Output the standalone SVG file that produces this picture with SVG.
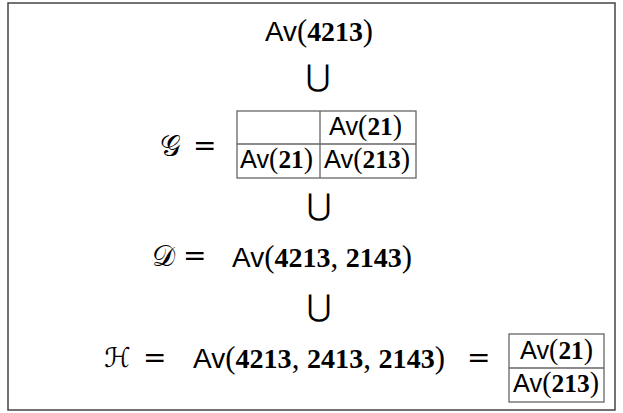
<svg xmlns="http://www.w3.org/2000/svg" width="623" height="413" viewBox="0 0 623 413">
<style>
.sf{font-family:"Liberation Sans",Arial,sans-serif}
.rm{font-family:"Liberation Serif","Times New Roman",serif;font-size:1.1em}
.bf{font-family:"Liberation Serif","Times New Roman",serif;font-weight:bold}
.t{font-size:28px;fill:#000}
.s{font-size:26px;fill:#000}
.op{font-family:"DejaVu Sans",sans-serif;font-size:28px;fill:#000}
.un{font-family:"DejaVu Sans",sans-serif;font-size:30px;fill:#000;text-anchor:middle}
.cal{font-family:"DejaVu Sans","DejaVu Serif",serif;font-size:29px;fill:#000}
.calh{font-family:"DejaVu Sans","DejaVu Serif",serif;font-size:27px;fill:#000}
.grid{fill:none;stroke:#666;stroke-width:1.3}
.frame{fill:#fff;stroke:#444;stroke-width:1.5}
</style>
<rect class="frame" x="8" y="3" width="607" height="407"/>
<g id="av4213">
<text class="t" x="265" y="41" textLength="108" lengthAdjust="spacingAndGlyphs"><tspan class="sf">Av</tspan><tspan class="rm">(</tspan><tspan class="bf">4213</tspan><tspan class="rm">)</tspan></text>
</g>
<g id="connectors">
<text class="un" x="318" y="86">⋃</text>
<text class="un" x="319" y="215">⋃</text>
<text class="un" x="319" y="316">⋃</text>
</g>
<g id="G">
<text class="cal" x="160" y="156">𝒢</text>
<text class="op" x="193" y="155">=</text>
<rect class="grid" x="237" y="111" width="179" height="67"/>
<line class="grid" x1="237" y1="144" x2="416" y2="144"/>
<line class="grid" x1="320" y1="111" x2="320" y2="178"/>
<text class="s" x="329" y="135" textLength="73" lengthAdjust="spacingAndGlyphs"><tspan class="sf">Av</tspan><tspan class="rm">(</tspan><tspan class="bf">21</tspan><tspan class="rm">)</tspan></text>
<text class="s" x="240" y="168" textLength="73" lengthAdjust="spacingAndGlyphs"><tspan class="sf">Av</tspan><tspan class="rm">(</tspan><tspan class="bf">21</tspan><tspan class="rm">)</tspan></text>
<text class="s" x="324" y="168" textLength="86" lengthAdjust="spacingAndGlyphs"><tspan class="sf">Av</tspan><tspan class="rm">(</tspan><tspan class="bf">213</tspan><tspan class="rm">)</tspan></text>
</g>
<g id="D">
<text class="cal" x="152" y="266">𝒟</text>
<text class="op" x="183" y="265">=</text>
<text class="t" x="232" y="267" textLength="180" lengthAdjust="spacingAndGlyphs"><tspan class="sf">Av</tspan><tspan class="rm">(</tspan><tspan class="bf">4213</tspan><tspan class="rm">, </tspan><tspan class="bf">2143</tspan><tspan class="rm">)</tspan></text>
</g>
<g id="H">
<text class="calh" x="104" y="367">ℋ</text>
<text class="op" x="143" y="367">=</text>
<text class="t" x="193" y="368" textLength="252" lengthAdjust="spacingAndGlyphs"><tspan class="sf">Av</tspan><tspan class="rm">(</tspan><tspan class="bf">4213</tspan><tspan class="rm">, </tspan><tspan class="bf">2413</tspan><tspan class="rm">, </tspan><tspan class="bf">2143</tspan><tspan class="rm">)</tspan></text>
<text class="op" x="467" y="367">=</text>
<rect class="grid" x="509" y="334" width="95" height="68"/>
<line class="grid" x1="509" y1="368" x2="604" y2="368"/>
<text class="s" x="520" y="359" textLength="73" lengthAdjust="spacingAndGlyphs"><tspan class="sf">Av</tspan><tspan class="rm">(</tspan><tspan class="bf">21</tspan><tspan class="rm">)</tspan></text>
<text class="s" x="513" y="392" textLength="86" lengthAdjust="spacingAndGlyphs"><tspan class="sf">Av</tspan><tspan class="rm">(</tspan><tspan class="bf">213</tspan><tspan class="rm">)</tspan></text>
</g>
</svg>
